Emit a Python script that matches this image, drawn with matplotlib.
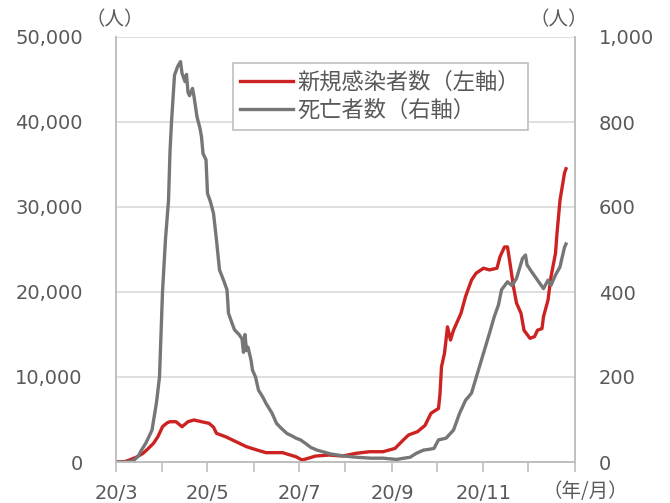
import pandas as pd
import matplotlib
matplotlib.use("Agg")
import matplotlib.pyplot as plt
import matplotlib.dates as mdates
from matplotlib.ticker import FuncFormatter, MultipleLocator

# new cases, 7-day average (left axis)
case_dates = [
    "2020-03-01", "2020-03-07", "2020-03-10", "2020-03-15", "2020-03-19", "2020-03-22",
    "2020-03-26", "2020-03-29", "2020-04-01", "2020-04-04", "2020-04-06", "2020-04-10",
    "2020-04-14", "2020-04-18", "2020-04-22", "2020-04-27", "2020-05-02", "2020-05-05",
    "2020-05-07", "2020-05-13", "2020-05-20", "2020-05-27", "2020-06-03", "2020-06-09",
    "2020-06-20", "2020-06-29", "2020-07-03", "2020-07-07", "2020-07-12", "2020-07-21",
    "2020-07-30", "2020-08-08", "2020-08-17", "2020-08-26", "2020-09-03", "2020-09-08",
    "2020-09-12", "2020-09-18", "2020-09-23", "2020-09-27", "2020-10-02", "2020-10-03",
    "2020-10-04", "2020-10-06", "2020-10-08", "2020-10-10", "2020-10-12", "2020-10-17",
    "2020-10-20", "2020-10-24", "2020-10-27", "2020-11-01", "2020-11-05", "2020-11-10",
    "2020-11-12", "2020-11-15", "2020-11-17", "2020-11-19", "2020-11-21", "2020-11-23",
    "2020-11-26", "2020-11-28", "2020-12-02", "2020-12-05", "2020-12-07", "2020-12-10",
    "2020-12-11", "2020-12-14", "2020-12-16", "2020-12-19", "2020-12-20", "2020-12-22",
    "2020-12-25", "2020-12-26",
]
case_values = [
    0, 50, 235, 600, 1020, 1500,
    2200, 3000, 4150, 4600, 4740, 4740,
    4150, 4740, 4940, 4740, 4550, 4100,
    3370, 2980, 2390, 1800, 1410, 1100,
    1100, 620, 235, 430, 700, 820,
    700, 1020, 1210, 1210, 1600, 2500,
    3176, 3570, 4300, 5730, 6300, 8000,
    11200, 12800, 15900, 14350, 15500, 17500,
    19450, 21400, 22200, 22800, 22600, 22800,
    24150, 25300, 25300, 23000, 20600, 18700,
    17500, 15500, 14550, 14750, 15500, 15700,
    17100, 19050, 21800, 24550, 26900, 30800,
    34000, 34500,
]

# deaths, 7-day average (right axis)
death_dates = [
    "2020-03-01", "2020-03-09", "2020-03-13", "2020-03-16", "2020-03-18", "2020-03-21",
    "2020-03-25", "2020-03-28", "2020-03-30", "2020-04-01", "2020-04-03", "2020-04-05",
    "2020-04-06", "2020-04-07", "2020-04-09", "2020-04-11", "2020-04-13", "2020-04-14",
    "2020-04-16", "2020-04-17", "2020-04-18", "2020-04-19", "2020-04-21", "2020-04-22",
    "2020-04-24", "2020-04-26", "2020-04-27", "2020-04-28", "2020-04-30", "2020-05-01",
    "2020-05-03", "2020-05-05", "2020-05-07", "2020-05-09", "2020-05-12", "2020-05-14",
    "2020-05-15", "2020-05-17", "2020-05-19", "2020-05-22", "2020-05-24", "2020-05-25",
    "2020-05-26", "2020-05-27", "2020-05-28", "2020-05-30", "2020-05-31", "2020-06-02",
    "2020-06-04", "2020-06-07", "2020-06-09", "2020-06-13", "2020-06-16", "2020-06-19",
    "2020-06-23", "2020-06-26", "2020-06-29", "2020-07-02", "2020-07-06", "2020-07-09",
    "2020-07-13", "2020-07-22", "2020-07-31", "2020-08-09", "2020-08-18", "2020-08-26",
    "2020-09-04", "2020-09-09", "2020-09-13", "2020-09-17", "2020-09-22", "2020-09-26",
    "2020-09-29", "2020-10-02", "2020-10-07", "2020-10-12", "2020-10-16", "2020-10-20",
    "2020-10-24", "2020-10-28", "2020-11-01", "2020-11-05", "2020-11-08", "2020-11-11",
    "2020-11-13", "2020-11-17", "2020-11-20", "2020-11-23", "2020-11-27", "2020-11-29",
    "2020-11-30", "2020-12-03", "2020-12-07", "2020-12-11", "2020-12-14", "2020-12-16",
    "2020-12-19", "2020-12-22", "2020-12-23", "2020-12-25", "2020-12-26",
]
death_values = [
    0, 0, 4, 15, 28, 45,
    75, 140, 200, 400, 525, 615,
    730, 800, 910, 930, 942, 915,
    895, 912, 870, 862, 879, 860,
    812, 785, 765, 726, 711, 632,
    612, 585, 522, 452, 425, 405,
    350, 330, 311, 300, 290, 258,
    300, 262, 270, 240, 216, 200,
    169, 152, 138, 115, 91, 80,
    67, 62, 56, 52, 42, 34,
    28, 19, 14, 11, 9, 9,
    6, 9, 11, 20, 28, 30,
    32, 52, 56, 75, 114, 145,
    162, 209, 256, 303, 340, 370,
    405, 424, 415, 432, 479, 487,
    464, 448, 428, 408, 428, 416,
    440, 459, 475, 505, 513,
]

label_cases = "新規感染者数（左軸）"
label_deaths = "死亡者数（右軸）"

text_color = "#595959"
grid_color = "#D9D9D9"
jp = ["Noto Sans CJK JP", "DejaVu Sans"]

plt.rcParams["font.family"] = ["DejaVu Sans", "Noto Sans CJK JP"]

fig = plt.figure(figsize=(6.70, 5.03), dpi=100)
ax = fig.add_axes([116 / 670, 41 / 503, 459 / 670, 425 / 503])
ax2 = ax.twinx()

ax.plot(pd.to_datetime(case_dates), case_values, color="#CC2222", lw=2.4,
        label=label_cases, solid_joinstyle="round")
ax2.plot(pd.to_datetime(death_dates), death_values, color="#767676", lw=2.4,
         label=label_deaths, solid_joinstyle="round")

ax.set_xlim(pd.Timestamp("2020-03-01"), pd.Timestamp("2021-01-01"))
ax.set_ylim(0, 50000)
ax2.set_ylim(0, 1000)
ax.yaxis.set_major_locator(MultipleLocator(10000))
ax2.yaxis.set_major_locator(MultipleLocator(200))
ax.yaxis.set_major_formatter(FuncFormatter(lambda v, p: f"{int(v):,}"))
ax2.yaxis.set_major_formatter(FuncFormatter(lambda v, p: f"{int(v):,}"))

ax.xaxis.set_major_locator(mdates.MonthLocator())


def month_label(v, pos):
    d = mdates.num2date(v)
    if d.month % 2 == 1 and d.year == 2020:
        return f"{d.year % 100}/{d.month}"
    return ""


ax.xaxis.set_major_formatter(FuncFormatter(month_label))

ax.grid(axis="y", color=grid_color, lw=1.2)
ax.set_axisbelow(True)
for a in (ax, ax2):
    a.spines["top"].set_visible(False)
    a.spines["left"].set_color("#BFBFBF")
    a.spines["right"].set_color("#BFBFBF")
    a.spines["bottom"].set_color("#BFBFBF")
    for s in a.spines.values():
        s.set_linewidth(1.2)
ax.tick_params(axis="x", direction="out", length=7, width=1.2, color="#BFBFBF",
               labelsize=14, labelcolor=text_color, pad=9)
ax.tick_params(axis="y", length=0, labelsize=14, labelcolor=text_color, pad=24)
ax2.tick_params(axis="y", length=0, labelsize=14, labelcolor=text_color, pad=17)

fig.text(115 / 670, 1 - 20 / 503, "（人）", family=jp, fontsize=14, color=text_color,
         ha="center", va="center")
fig.text(559 / 670, 1 - 20 / 503, "（人）", family=jp, fontsize=14, color=text_color,
         ha="center", va="center")
fig.text(585 / 670, 1 - 491 / 503, "（年/月）", family=jp, fontsize=14, color=text_color,
         ha="center", va="center")

h1, l1 = ax.get_legend_handles_labels()
h2, l2 = ax2.get_legend_handles_labels()
leg = ax2.legend(h1 + h2, l1 + l2, loc="upper left", bbox_to_anchor=(0.254, 0.94),
                 frameon=True, fancybox=False, edgecolor="#BFBFBF", framealpha=1,
                 prop={"family": jp, "size": 16}, handlelength=2.35, handletextpad=0.22,
                 labelspacing=0.25, borderpad=0.35, borderaxespad=0)
leg.get_frame().set_linewidth(1.2)
for t in leg.get_texts():
    t.set_color(text_color)

fig.savefig("out.png", dpi=100)
